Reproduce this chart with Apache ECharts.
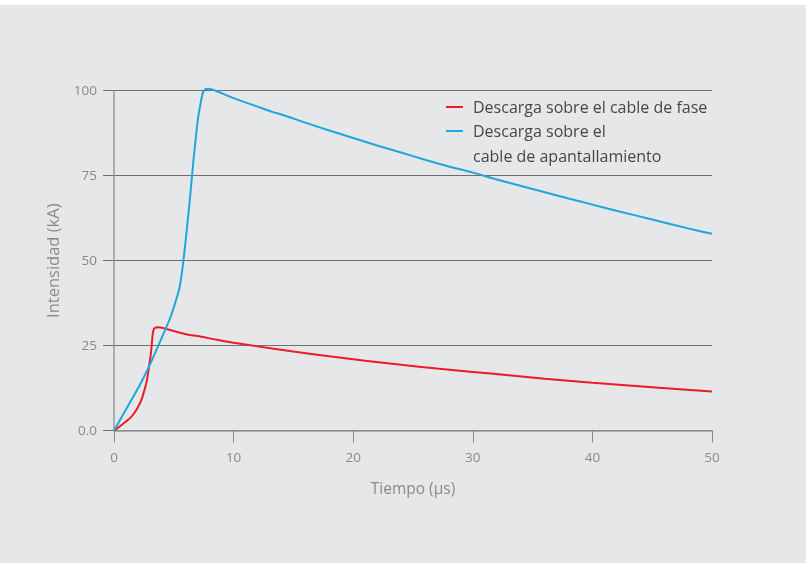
<!DOCTYPE html>
<html>
<head>
<meta charset="utf-8">
<script src="https://cdn.jsdelivr.net/npm/echarts@6/dist/echarts.min.js"></script>
<style>
  html, body { margin: 0; padding: 0; background: #e6e7e9; }
  #band { position: absolute; left: 0; top: 0; width: 806px; height: 5px; background: #ffffff; }
  #chart { position: absolute; left: 0; top: 0; width: 806px; height: 563px; }
</style>
</head>
<body>
<div id="band"></div>
<div id="chart"></div>
<script>
// Lightning current waveforms: time (µs) vs current (kA)
const seriesNames = ['Descarga sobre el cable de fase', 'Descarga sobre el\ncable de apantallamiento'];
const seriesColors = ['#ec1c27', '#1ea6dd'];

const fasePoints = [
  [0, 0], [0.5, 1.3], [1.0, 2.7], [1.34, 3.7], [1.7, 5.2], [2.03, 7.1], [2.35, 9.6],
  [2.59, 12.5], [2.75, 14.8], [2.87, 17.4], [3.0, 20.5], [3.07, 22.3], [3.15, 25.0],
  [3.2, 27.2], [3.28, 29.3], [3.4, 30.2], [3.7, 30.4], [4.0, 30.3], [4.4, 29.9],
  [5.0, 29.3], [5.5, 28.8], [6.1, 28.3], [7.2, 27.7], [8.5, 26.8], [10, 25.9],
  [12, 24.8], [15, 23.3], [18, 21.9], [21, 20.6], [24, 19.4], [27, 18.3],
  [30, 17.3], [33, 16.3], [36, 15.3], [40, 14.1], [45, 12.8], [50, 11.5]
];

const pantallaPoints = [
  [0, 0], [1.06, 6.6], [2.17, 13.5], [3.0, 19.4], [3.85, 26.2], [4.68, 33.0], [5.2, 38.5],
  [5.5, 42.5], [5.74, 48.2], [5.9, 53.0], [6.08, 59.0], [6.3, 66.5], [6.49, 73.7],
  [6.7, 81.5], [6.91, 88.4], [7.05, 92.5], [7.19, 95.3], [7.35, 98.3], [7.47, 99.7],
  [7.7, 100.5], [7.97, 100.6], [8.5, 100.0], [10, 97.8], [12, 95.3], [13.3, 93.7],
  [14, 93.0], [16, 90.6], [18, 88.3], [20, 86.1], [22, 83.9], [24, 81.8], [26, 79.7],
  [28, 77.7], [30, 75.9], [32, 73.9], [35, 71.1], [38, 68.3], [40, 66.5], [42, 64.7],
  [45, 62.1], [48, 59.5], [50, 57.9]
];

const yTickLabels = { 0: '0.0', 25: '25', 50: '50', 75: '75', 100: '100' };

const font = '"Open Sans", sans-serif';
const chart = echarts.init(document.getElementById('chart'), null, { renderer: 'canvas' });

const legendTop = 107;
const legendRows = [0, 24];
const legendGraphics = [];
seriesNames.forEach((name, i) => {
  legendGraphics.push({
    type: 'line',
    shape: { x1: 446, y1: legendTop + legendRows[i], x2: 463, y2: legendTop + legendRows[i] },
    style: { stroke: seriesColors[i], lineWidth: 2 }
  });
  legendGraphics.push({
    type: 'text',
    left: 473,
    top: legendTop + legendRows[i] - 11,
    style: { text: name, fill: '#474747', font: '16px ' + font, lineHeight: 25 }
  });
});

chart.setOption({
  backgroundColor: 'transparent',
  animation: false,
  grid: { left: 114, right: 94, top: 90.7, bottom: 132.3, containLabel: false },
  xAxis: {
    type: 'value', min: 0, max: 50, interval: 10,
    name: 'Tiempo (µs)', nameLocation: 'middle', nameGap: 51,
    nameTextStyle: { color: '#8a8a8a', fontSize: 15.5, fontFamily: font },
    axisLine: { show: true, lineStyle: { color: '#9a9a9a', width: 1.5 } },
    axisTick: { show: true, length: 12, lineStyle: { color: '#8a8a8a' } },
    axisLabel: { color: '#8a8a8a', fontSize: 13.5, fontFamily: font, margin: 20 },
    splitLine: { show: false }
  },
  yAxis: {
    type: 'value', min: 0, max: 100, interval: 25,
    name: 'Intensidad (kA)', nameLocation: 'middle', nameGap: 48,
    nameTextStyle: { color: '#8a8a8a', fontSize: 16.5, fontFamily: font },
    axisLine: { show: true, lineStyle: { color: '#9a9a9a', width: 1.5 } },
    axisTick: { show: true, length: 11, lineStyle: { color: '#6f6f6f' } },
    axisLabel: {
      color: '#8a8a8a', fontSize: 13.5, fontFamily: font, margin: 17,
      formatter: v => yTickLabels[v] !== undefined ? yTickLabels[v] : String(v)
    },
    splitLine: { show: true, lineStyle: { color: '#6f6f6f', width: 1 } }
  },
  graphic: legendGraphics,
  series: [
    {
      name: seriesNames[0], type: 'line', data: fasePoints, smooth: 0.25,
      showSymbol: false, clip: false,
      lineStyle: { color: seriesColors[0], width: 2 }, itemStyle: { color: seriesColors[0] }
    },
    {
      name: seriesNames[1], type: 'line', data: pantallaPoints, smooth: 0.25,
      showSymbol: false, clip: false,
      lineStyle: { color: seriesColors[1], width: 2 }, itemStyle: { color: seriesColors[1] }
    }
  ]
});
</script>
</body>
</html>
